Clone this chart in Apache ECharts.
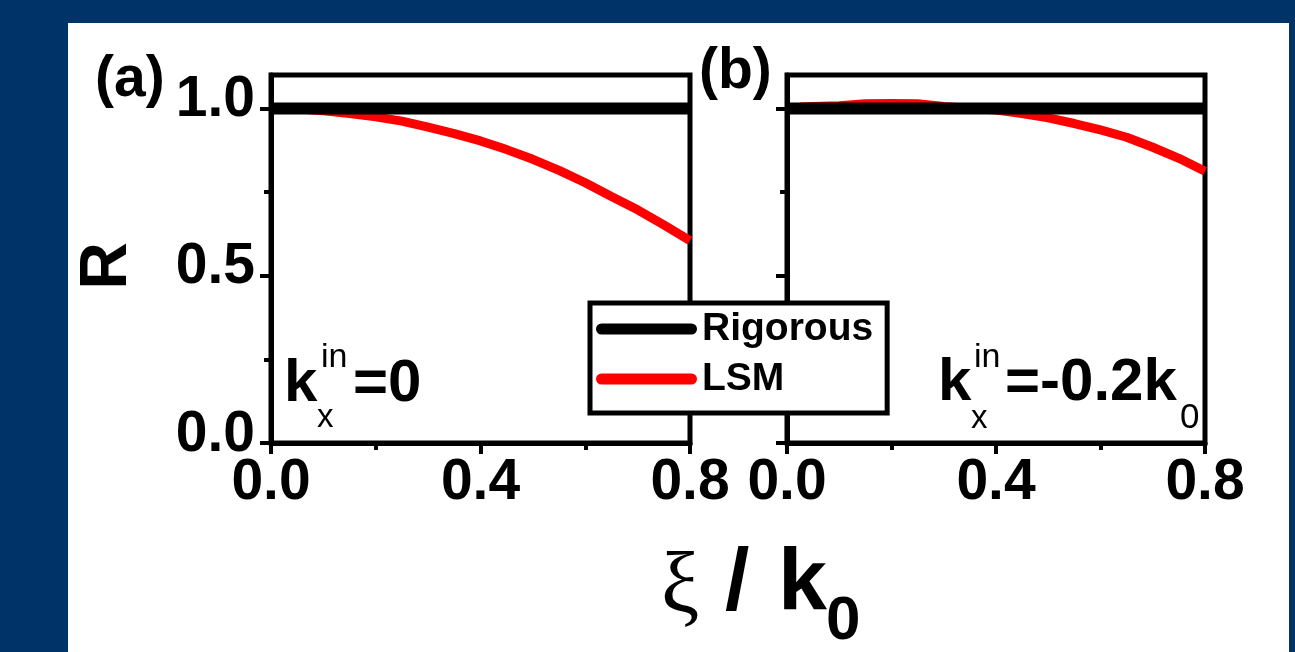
<!DOCTYPE html>
<html>
<head>
<meta charset="utf-8">
<script src="https://cdn.jsdelivr.net/npm/echarts@6/dist/echarts.min.js"></script>
<style>
html,body{margin:0;padding:0;background:#003468;}
#chart{width:1295px;height:652px;}
</style>
</head>
<body>
<div id="chart"></div>
<script>
// xi / k0 sample points
var xiLsm = [0.025, 0.05, 0.10, 0.15, 0.20, 0.25, 0.30, 0.35, 0.40, 0.45, 0.50, 0.55, 0.60, 0.65, 0.70, 0.75, 0.80];
// panel (a): kx_in = 0
var lsmA = [0.999, 0.998, 0.993, 0.985, 0.975, 0.962, 0.944, 0.925, 0.903, 0.877, 0.848, 0.815, 0.778, 0.737, 0.697, 0.652, 0.605];
// panel (b): kx_in = -0.2 k0
var lsmB = [1.004, 1.006, 1.008, 1.014, 1.015, 1.014, 1.006, 1.000, 0.995, 0.985, 0.972, 0.955, 0.936, 0.914, 0.884, 0.851, 0.812];
var xiRig = [0, 0.8];
var rigA = [1, 1];
var rigB = [1, 1];
var yTicks = [0, 0.5, 1.0];
var yMinor = [0.25, 0.75];

var FONT = "'Liberation Sans', Arial, sans-serif";
var SERIF = "'Liberation Serif', 'Times New Roman', serif";

function pairs(xs, ys){
    var out = [];
    for(var i=0;i<xs.length;i++){
        out.push([xs[i], ys[i]]);
    }
    return out;
}
function fmt(v){ return Number(v).toFixed(1); }

function xAx(g){
    return {
        type:'value', gridIndex:g, min:0, max:0.8, interval:0.4, position:'bottom',
        axisLine:{show:true, onZero:false, lineStyle:{color:'#000', width:5}},
        axisTick:{show:true, length:11, lineStyle:{color:'#000', width:4}},
        minorTick:{show:true, splitNumber:2, length:7, lineStyle:{color:'#000', width:4}},
        axisLabel:{margin:12, formatter:fmt, color:'#000', fontSize:57, fontWeight:'bold', fontFamily:FONT},
        splitLine:{show:false}, minorSplitLine:{show:false}
    };
}
function yAx(g, labels){
    return {
        type:'value', gridIndex:g, min:0, max:1.1, position:'left',
        axisLine:{show:true, onZero:false, lineStyle:{color:'#000', width:5}},
        axisTick:{show:true, length:11, customValues:yTicks, lineStyle:{color:'#000', width:4}},
        axisLabel:{show:labels, customValues:yTicks, formatter:fmt, margin:16,
            verticalAlign:'bottom', lineHeight:16,
            color:'#000', fontSize:57, fontWeight:'bold', fontFamily:FONT},
        splitLine:{show:false}
    };
}
//次刻度
function yMinorAx(g){
    return {
        type:'value', gridIndex:g, min:0, max:1.1, position:'left',
        axisLine:{show:false},
        axisTick:{show:true, length:7, customValues:yMinor, lineStyle:{color:'#000', width:4}},
        axisLabel:{show:false},
        splitLine:{show:false}
    };
}
// text placed by its baseline
function txt(s, x, base, size, weight, family){
    return {
        type:'text', x:x, y:base - size*0.8465, z:100, silent:true,
        style:{text:s, fontSize:size, fontWeight:weight, fontFamily:family || FONT, fill:'#000', align:'left', verticalAlign:'top'}
    };
}

var lineRed = {color:'#ff0000', width:9};
var lineBlack = {color:'#000000', width:12};
var capsule = 'path://M5.5,0 L95.5,0 A5.5,5.5 0 0 1 95.5,11 L5.5,11 A5.5,5.5 0 0 1 5.5,0 Z';

var myChart = echarts.init(document.getElementById('chart'));
var option = {
    backgroundColor:'#003468',
    animation:false,
    grid:[
        {left:271, right:605, top:75, bottom:209, show:true, borderColor:'#000', borderWidth:5, backgroundColor:'transparent', outerBoundsMode:'none'},
        {left:787, right:90, top:75, bottom:209, show:true, borderColor:'#000', borderWidth:5, backgroundColor:'transparent', outerBoundsMode:'none'}
    ],
    xAxis:[xAx(0), xAx(1)],
    yAxis:[yAx(0, true), yMinorAx(0), yAx(1, false), yMinorAx(1)],
    legend:{
        left:590, top:303, orient:'vertical', selectedMode:false,
        data:['Rigorous', 'LSM'],
        icon:capsule, symbolKeepAspect:false, itemWidth:101, itemHeight:11, itemGap:10,
        padding:[6, 14, 14, 6],
        backgroundColor:'#fff', borderColor:'#000', borderWidth:5,
        textStyle:{fontSize:39, fontWeight:'bold', fontFamily:FONT, color:'#000', lineHeight:40}
    },
    series:[
        {name:'LSM', type:'line', xAxisIndex:0, yAxisIndex:0, data:pairs(xiLsm, lsmA), showSymbol:false, silent:true,
            color:'#ff0000', itemStyle:{color:'#ff0000'}, lineStyle:lineRed, z:2},
        {name:'Rigorous', type:'line', xAxisIndex:0, yAxisIndex:0, data:pairs(xiRig, rigA), showSymbol:false, silent:true,
            color:'#000000', itemStyle:{color:'#000000'}, lineStyle:lineBlack, z:3},
        {name:'LSM', type:'line', xAxisIndex:1, yAxisIndex:2, data:pairs(xiLsm, lsmB), showSymbol:false, silent:true,
            color:'#ff0000', itemStyle:{color:'#ff0000'}, lineStyle:lineRed, z:2},
        {name:'Rigorous', type:'line', xAxisIndex:1, yAxisIndex:2, data:pairs(xiRig, rigB), showSymbol:false, silent:true,
            color:'#000000', itemStyle:{color:'#000000'}, lineStyle:lineBlack, z:3}
    ],
    graphic:[
        {type:'rect', z:-10, silent:true, shape:{x:68, y:23, width:1221, height:629}, style:{fill:'#ffffff'}},
        txt('(a)', 95, 100, 57, 'bold'),
        txt('(b)', 699, 92, 57, 'bold'),
        {type:'text', x:108, y:266, rotation:Math.PI/2, z:100, silent:true,
            style:{text:'R', fontSize:66, fontWeight:'bold', fontFamily:FONT, fill:'#000', align:'center', verticalAlign:'middle'}},
        // k_x^in = 0
        txt('k', 284, 405, 60, 'bold'),
        txt('in', 321, 369, 34, 'normal'),
        txt('x', 317, 429, 33, 'normal'),
        txt('=0', 353, 405, 60, 'bold'),
        // k_x^in = -0.2k0
        txt('k', 938, 404, 60, 'bold'),
        txt('in', 974, 369, 34, 'normal'),
        txt('x', 971, 430, 33, 'normal'),
        txt('=-0.2k', 1005, 404, 60, 'bold'),
        txt('0', 1180, 430, 35, 'normal'),
        // 横轴标题
        txt('\u03be', 661, 619, 86, 'normal', SERIF),
        txt('/', 725, 615, 88, 'bold'),
        txt('k', 778, 615, 88, 'bold'),
        txt('0', 826, 643, 62, 'bold')
    ]
};
myChart.setOption(option);
</script>
</body>
</html>
